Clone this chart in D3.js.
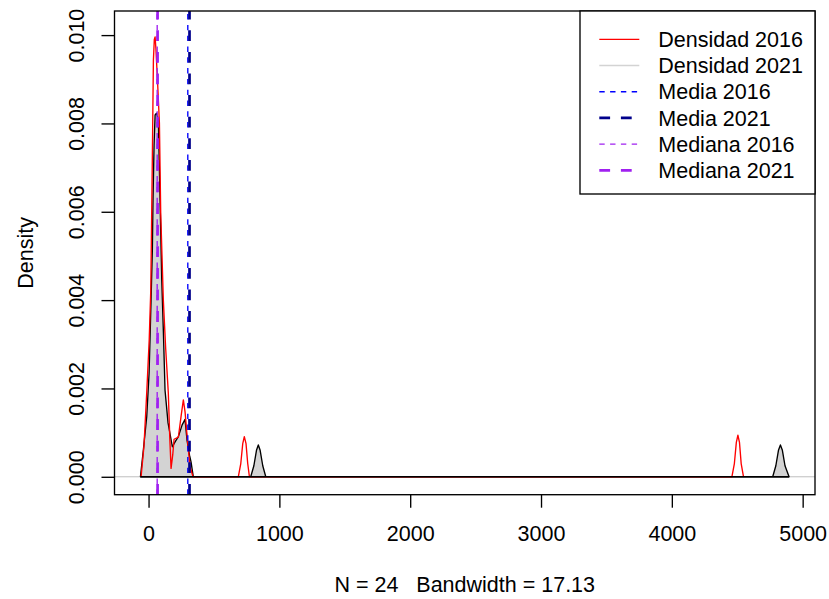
<!DOCTYPE html>
<html><head><meta charset="utf-8">
<script src="https://cdn.jsdelivr.net/npm/d3@7"></script>
<style>
body{margin:0;background:#fff}
svg{display:block}
text{font-family:"Liberation Sans",Arial,Helvetica,sans-serif;font-size:21.5px;fill:#000}
</style>
</head><body>
<svg id="chart" width="829" height="599"></svg>
<script>
// ---- data ----
const dens2021X = [-62,-40,-14,4,11,19,29,34,42,50,61,75,88,101,113,126,149,182,205,228,256,279,294,313,325,342,
                   781,805,825,839,853,873,896,
                   4771,4795,4815,4830,4845,4865,4896];
const dens2021Y = [0,0.0006,0.00136,0.00235,0.0031,0.0040,0.00513,0.00626,0.0075,0.00819,0.00823,0.00808,0.00626,0.00445,0.00332,0.00196,0.00122,0.00068,0.0008,0.00091,0.00117,0.0013,0.00083,0.00049,0.00033,0,
                   0,0.00025,0.0006,0.00072,0.0006,0.00025,0,
                   0,0.00025,0.0006,0.00072,0.0006,0.00025,0];
const dens2016X = [-57,-35,-14,5,17,29,37,44,50,56,68,83,93,113,131,151,162,172,185,195,228,250,266,279,297,317,340,
                   686,705,720,732,745,758,771,
                   4459,4478,4493,4505,4517,4530,4548];
const dens2016Y = [0,0.0007,0.0019,0.0031,0.00423,0.00724,0.00943,0.0099,0.00996,0.0097,0.009,0.00801,0.00597,0.004,0.0029,0.0019,0.0009,0.00019,0.0005,0.00085,0.0009,0.0014,0.00174,0.00147,0.00084,0.00023,0,
                   0,0.0003,0.00075,0.00091,0.00075,0.0003,0,
                   0,0.0003,0.00078,0.00094,0.00078,0.0003,0];
const media2016 = 300, media2021 = 313, mediana2016 = 66, mediana2021 = 69;
const yLimits = [0, 0.01014];
const xTicks = [0,1000,2000,3000,4000,5000];
const yTicks = [0,0.002,0.004,0.006,0.008,0.010];
const legendLabels = ["Densidad 2016","Densidad 2021","Media 2016","Media 2021","Mediana 2016","Mediana 2021"];
const xLabel = "N = 24   Bandwidth = 17.13";
const yLabel = "Density";

// ---- layout ----
const L = 114.5, R = 815, T = 11, B = 494.7;
const svg = d3.select("#chart");

const xr = d3.extent(dens2021X), xw = xr[1]-xr[0];
const x = d3.scaleLinear().domain([xr[0]-0.04*xw, xr[1]+0.04*xw]).range([L, R]);
const yw = yLimits[1]-yLimits[0];
const y = d3.scaleLinear().domain([yLimits[0]-0.04*yw, yLimits[1]+0.04*yw]).range([B, T]);

const d2021 = dens2021X.map((v,i)=>[v, dens2021Y[i]]);
const d2016 = dens2016X.map((v,i)=>[v, dens2016Y[i]]);
const line = d3.line().x(d=>x(d[0])).y(d=>y(d[1]));

const plot = svg.append("g");
// zero line
plot.append("line").attr("x1",L).attr("x2",R).attr("y1",y(0)).attr("y2",y(0))
  .attr("stroke","#BEBEBE").attr("stroke-width",1);
// polygon 2021
plot.append("path").datum(d2021).attr("d", line(d2021)+"Z")
  .attr("fill","#D3D3D3").attr("stroke","#000").attr("stroke-width",1.35).attr("stroke-linejoin","round");
// red 2016
plot.append("path").attr("d", line(d2016)).attr("fill","none")
  .attr("stroke","#FF0000").attr("stroke-width",1.35).attr("stroke-linejoin","round");
// black baseline over extent of 2021
plot.append("line").attr("x1",x(xr[0])).attr("x2",x(xr[1])).attr("y1",y(0)).attr("y2",y(0))
  .attr("stroke","#000").attr("stroke-width",1.35);

const vlines = [
  {v:media2016, c:"#0000FF", w:1.35, dash:"5.4,5.4"},
  {v:media2021, c:"#00008B", w:2.7, dash:"10.8,10.8"},
  {v:mediana2016, c:"#A020F0", w:1.35, dash:"5.4,5.4"},
  {v:mediana2021, c:"#A020F0", w:2.7, dash:"10.8,10.8"}
];
vlines.forEach(o=>{
  plot.append("line").attr("x1",x(o.v)).attr("x2",x(o.v)).attr("y1",B).attr("y2",T)
    .attr("stroke",o.c).attr("stroke-width",o.w).attr("stroke-dasharray",o.dash);
});

// box
svg.append("rect").attr("x",L).attr("y",T).attr("width",R-L).attr("height",B-T)
  .attr("fill","none").attr("stroke","#000").attr("stroke-width",1.35);

// x axis
const gx = svg.append("g").attr("transform",`translate(0,${B})`)
  .call(d3.axisBottom(x).tickValues(xTicks).tickSize(13).tickSizeOuter(0).tickFormat(d3.format("d")));
gx.select(".domain").remove();
gx.selectAll(".tick line").attr("stroke","#000").attr("stroke-width",1.35);
gx.selectAll(".tick text").attr("y",46.8).attr("dy",null).style("font-size","21.5px")
  .style("font-family","Liberation Sans, Arial, sans-serif").attr("fill","#000");

// y axis
const gy = svg.append("g").attr("transform",`translate(${L},0)`)
  .call(d3.axisLeft(y).tickValues(yTicks).tickSize(13).tickSizeOuter(0).tickFormat(d3.format(".3f")));
gy.select(".domain").remove();
gy.selectAll(".tick line").attr("stroke","#000").attr("stroke-width",1.35);
gy.selectAll(".tick text").attr("x",null).attr("dy",null)
  .attr("transform","translate(-31,0) rotate(-90)").attr("text-anchor","middle")
  .style("font-size","21.5px").style("font-family","Liberation Sans, Arial, sans-serif").attr("fill","#000");

// axis labels
svg.append("text").attr("x",(L+R)/2).attr("y",592).attr("text-anchor","middle")
  .style("white-space","pre").attr("xml:space","preserve").text(xLabel);
svg.append("text").attr("transform",`translate(32.5,${(T+B)/2}) rotate(-90)`).attr("text-anchor","middle").text(yLabel);

// legend
const lg = svg.append("g");
lg.append("rect").attr("x",580).attr("y",T).attr("width",R-580).attr("height",194-T)
  .attr("fill","#fff").attr("stroke","#000").attr("stroke-width",1.35);
const legStyles = [
  {c:"#FF0000", w:1.35, dash:null},
  {c:"#D3D3D3", w:1.35, dash:null},
  {c:"#0000FF", w:1.35, dash:"5.4,5.4"},
  {c:"#00008B", w:2.7, dash:"10.8,10.8"},
  {c:"#A020F0", w:1.35, dash:"5.4,5.4"},
  {c:"#A020F0", w:2.7, dash:"10.8,10.8"}
];
legendLabels.forEach((lab,i)=>{
  const cy = 39.3 + i*26.2;
  const s = legStyles[i];
  const ln = lg.append("line").attr("x1",599.3).attr("x2",639.3).attr("y1",cy).attr("y2",cy)
    .attr("stroke",s.c).attr("stroke-width",s.w);
  if (s.dash) ln.attr("stroke-dasharray",s.dash);
  lg.append("text").attr("x",658.3).attr("y",cy+7.7).text(lab);
});
</script>
</body></html>
